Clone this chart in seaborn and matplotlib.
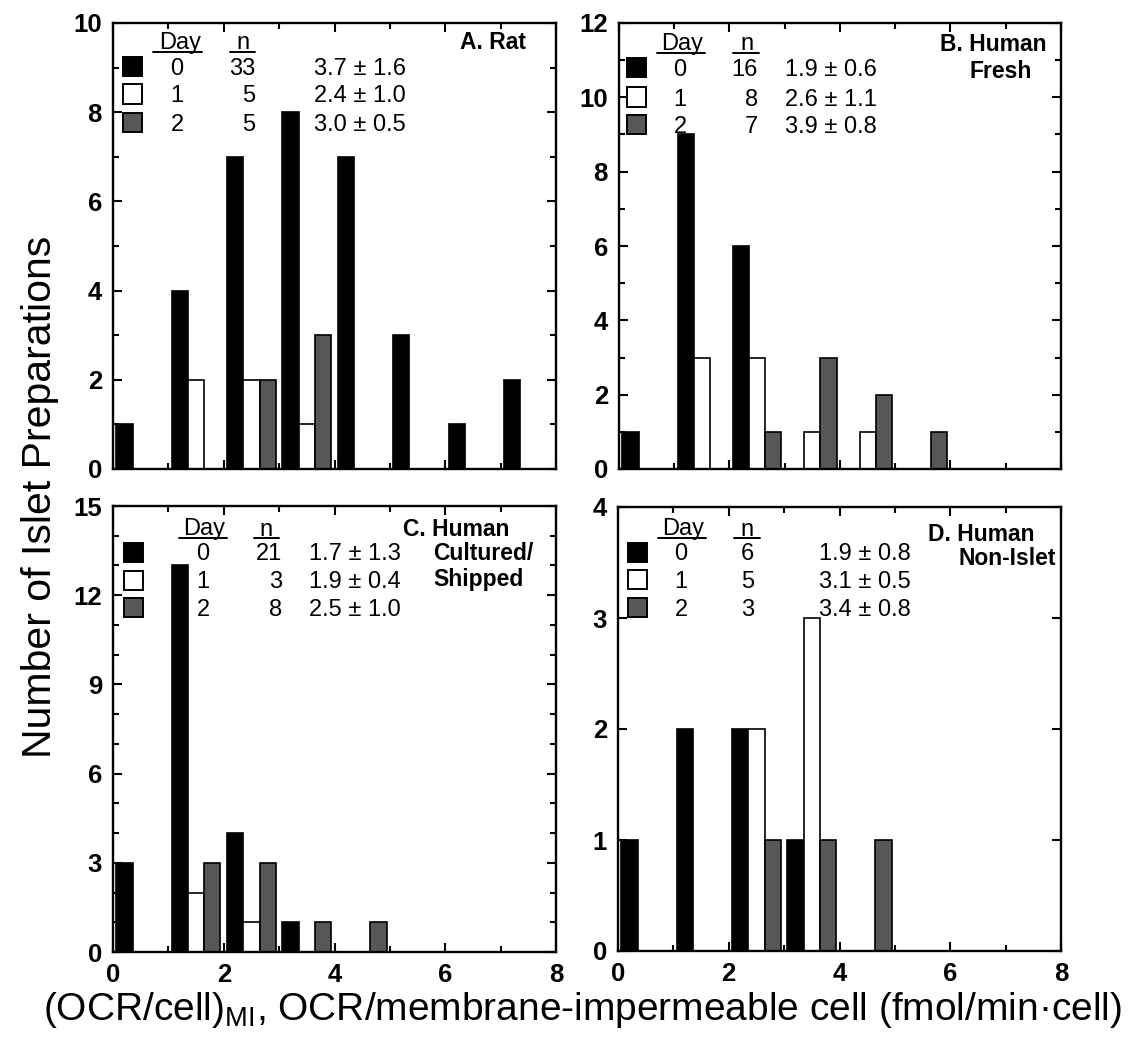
import numpy as np
import pandas as pd
import matplotlib
matplotlib.use("Agg")
import matplotlib.pyplot as plt
import seaborn as sns
from matplotlib.patches import Rectangle
from matplotlib.ticker import MultipleLocator

# ---------------- data ----------------
bin_centers = [0.5, 1.5, 2.5, 3.5, 4.5, 5.5, 6.5, 7.5]   # histogram bins 0-1, 1-2, ... 7-8
days = ["0", "1", "2"]

rat_day0 = [1, 4, 7, 8, 7, 3, 1, 2]
rat_day1 = [0, 2, 2, 1, 0, 0, 0, 0]
rat_day2 = [0, 0, 2, 3, 0, 0, 0, 0]

fresh_day0 = [1, 9, 6, 0, 0, 0, 0, 0]
fresh_day1 = [0, 3, 3, 1, 1, 0, 0, 0]
fresh_day2 = [0, 0, 1, 3, 2, 1, 0, 0]

cult_day0 = [3, 13, 4, 1, 0, 0, 0, 0]
cult_day1 = [0, 2, 1, 0, 0, 0, 0, 0]
cult_day2 = [0, 3, 3, 1, 1, 0, 0, 0]

nonislet_day0 = [1, 2, 2, 1, 0, 0, 0, 0]
nonislet_day1 = [0, 0, 2, 3, 0, 0, 0, 0]
nonislet_day2 = [0, 0, 1, 1, 1, 0, 0, 0]

rat_n = ["33", "5", "5"]
rat_stats = ["3.7 ± 1.6", "2.4 ± 1.0", "3.0 ± 0.5"]
fresh_n = ["16", "8", "7"]
fresh_stats = ["1.9 ± 0.6", "2.6 ± 1.1", "3.9 ± 0.8"]
cult_n = ["21", "3", "8"]
cult_stats = ["1.7 ± 1.3", "1.9 ± 0.4", "2.5 ± 1.0"]
nonislet_n = ["6", "5", "3"]
nonislet_stats = ["1.9 ± 0.8", "3.1 ± 0.5", "3.4 ± 0.8"]

rat_title = ["A. Rat"]
fresh_title = ["B. Human", "Fresh"]
cult_title = ["C. Human", "Cultured/", "Shipped"]
nonislet_title = ["D. Human", "Non-Islet"]

y_max = [10, 12, 15, 4]
y_major = [2, 2, 3, 1]
y_minor = [1, 1, 1, None]
x_ticks = [0, 2, 4, 6, 8]

xlabel = r"(OCR/cell)$_{\mathrm{MI}}$, OCR/membrane-impermeable cell (fmol/min·cell)"
ylabel = "Number of Islet Preparations"

# ---------------- style ----------------
sns.set_style("ticks")
plt.rcParams["font.family"] = ["Liberation Sans", "DejaVu Sans"]
plt.rcParams["mathtext.fontset"] = "custom"
plt.rcParams["mathtext.rm"] = "Liberation Sans"
plt.rcParams["mathtext.it"] = "Liberation Sans:italic"
plt.rcParams["mathtext.bf"] = "Liberation Sans:bold"
for key in ["text.color", "axes.labelcolor", "xtick.color", "ytick.color", "axes.edgecolor"]:
    plt.rcParams[key] = "black"

palette = {"0": "black", "1": "white", "2": "#575757"}

W, H = 1133, 1040
fig = plt.figure(figsize=(W / 100, H / 100), dpi=100)

# axes boxes in pixels (left, top, right, bottom)
boxes = [(113, 23, 556, 469), (619, 23, 1061, 469),
         (113, 506, 556, 952), (618, 507, 1061, 951)]

def make_df(d0, d1, d2):
    rows = []
    for day, vals in zip(days, [d0, d1, d2]):
        for b, v in zip(bin_centers, vals):
            if v > 0:
                rows.append({"bin": b, "day": day, "count": v})
    return pd.DataFrame(rows)

panels = [
    dict(df=make_df(rat_day0, rat_day1, rat_day2), n=rat_n, stats=rat_stats, title=rat_title,
         lay=dict(sq=10, rows=[44, 71, 100], dayc=67, hdy=18, ul_day=(40, 89), uly=29,
                  nc=130, ul_n=(117, 142), digc=64, nr=142, st=201,
                  t1=347, t2=347, ty=[18])),
    dict(df=make_df(fresh_day0, fresh_day1, fresh_day2), n=fresh_n, stats=fresh_stats, title=fresh_title,
         lay=dict(sq=8, rows=[45, 74, 102], dayc=63.5, hdy=19, ul_day=(38, 86), uly=30,
                  nc=128, ul_n=(114, 140), digc=61, nr=139, st=166,
                  t1=321, t2=351, ty=[20, 47])),
    dict(df=make_df(cult_day0, cult_day1, cult_day2), n=cult_n, stats=cult_stats, title=cult_title,
         lay=dict(sq=11, rows=[46, 74, 101], dayc=91, hdy=21, ul_day=(66, 114), uly=32,
                  nc=153, ul_n=(141, 166), digc=90, nr=169, st=196,
                  t1=290, t2=320, ty=[22, 46, 72])),
    dict(df=make_df(nonislet_day0, nonislet_day1, nonislet_day2), n=nonislet_n, stats=nonislet_stats,
         title=nonislet_title,
         lay=dict(sq=10, rows=[45, 73, 100], dayc=65.5, hdy=20, ul_day=(40, 88), uly=31,
                  nc=129, ul_n=(116, 142), digc=63, nr=136, st=201,
                  t1=310, t2=340, ty=[26, 50])),
]

FS = 17          # legend font size
TFS = 16.5       # panel title size
TICKFS = 18.5

for i, (p, box) in enumerate(zip(panels, boxes)):
    l, t, r, b = box
    ax = fig.add_axes([l / W, 1 - b / H, (r - l) / W, (b - t) / H])
    aw, ah = r - l, b - t
    sns.barplot(data=p["df"], x="bin", y="count", hue="day", hue_order=days,
                palette=palette, native_scale=True, width=0.88, errorbar=None,
                edgecolor="black", linewidth=1.2, legend=False, ax=ax)
    ax.set_xlim(0, 8)
    ax.set_ylim(0, y_max[i])
    ax.set_xlabel("")
    ax.set_ylabel("")
    ax.set_xticks(x_ticks)
    ax.xaxis.set_minor_locator(MultipleLocator(1))
    ax.yaxis.set_major_locator(MultipleLocator(y_major[i]))
    if y_minor[i] is not None:
        ax.yaxis.set_minor_locator(MultipleLocator(y_minor[i]))
    else:
        ax.yaxis.set_minor_locator(plt.NullLocator())
    for s in ax.spines.values():
        s.set_visible(True)
        s.set_linewidth(1.7)
        s.set_color("black")
    ax.tick_params(which="both", direction="in", top=True, right=True, width=1.5, colors="black")
    ax.tick_params(which="major", length=6.5)
    ax.tick_params(which="minor", length=4.5)
    ax.tick_params(axis="y", which="major", pad=8, labelsize=TICKFS)
    ax.tick_params(axis="x", which="major", pad=8, labelsize=TICKFS)
    for lab in ax.get_xticklabels() + ax.get_yticklabels():
        lab.set_fontweight("heavy")
    if i < 2:
        ax.tick_params(axis="x", labelbottom=False)

    lay = p["lay"]

    def fx(dx):
        return dx / aw

    def fy(dy):
        return 1 - dy / ah

    def txt(dx, dy, s, ha="left", size=FS, weight="normal"):
        cap = 0.36 * size * 100 / 72
        ax.text(fx(dx), fy(dy + cap), s, ha=ha, va="baseline", fontsize=size,
                fontweight=weight, transform=ax.transAxes)

    # header
    txt(lay["dayc"], lay["hdy"], "Day", ha="center")
    txt(lay["nc"], lay["hdy"], "n", ha="center")
    for (x0, x1) in [lay["ul_day"], lay["ul_n"]]:
        ax.plot([fx(x0), fx(x1)], [fy(lay["uly"]), fy(lay["uly"])], color="black", lw=1.4,
                transform=ax.transAxes, clip_on=False)
    for k, day in enumerate(days):
        ry = lay["rows"][k]
        ax.add_patch(Rectangle((fx(lay["sq"]), fy(ry + 9.5)), 19 / aw, 19 / ah,
                               facecolor=palette[day], edgecolor="black", lw=1.4,
                               transform=ax.transAxes, clip_on=False, zorder=5))
        txt(lay["digc"], ry, day, ha="center")
        txt(lay["nr"], ry, p["n"][k], ha="right")
        txt(lay["st"], ry, p["stats"][k], ha="left")
    # title
    for k, line in enumerate(p["title"]):
        txt(lay["t1"] if k == 0 else lay["t2"], lay["ty"][k], line, ha="left", size=TFS, weight="bold")

fig.text(40 / W, 1 - 497 / H, ylabel, rotation=90, ha="center", va="center", fontsize=29.5)
fig.text(582 / W, 1 - 1010 / H, xlabel, ha="center", va="center", fontsize=28)

fig.savefig("out.png", dpi=100)
